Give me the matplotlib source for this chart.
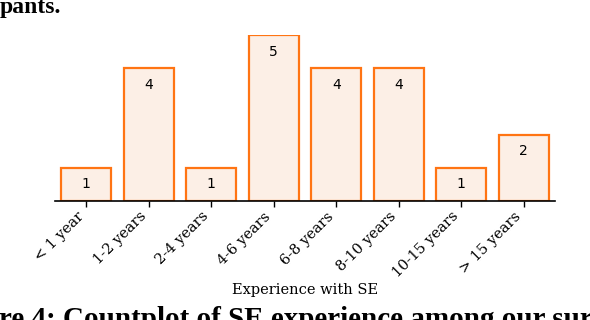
import matplotlib
matplotlib.use("Agg")
from matplotlib import pyplot as plt

experience = ["< 1 year", "1-2 years", "2-4 years", "4-6 years",
              "6-8 years", "8-10 years", "10-15 years", "> 15 years"]
counts = [1, 4, 1, 5, 4, 4, 1, 2]

fig = plt.figure(figsize=(5.9, 3.2), dpi=100)
ax = fig.add_axes([55 / 590, 1 - 201 / 320, 500 / 590, 166 / 320])

positions = range(len(experience))
ax.bar(positions, counts, width=0.8, color="#fcefe6",
       edgecolor="#ff7413", linewidth=1.6)
for x, c in zip(positions, counts):
    ax.text(x, c - 0.5, str(c), ha="center", va="center",
            fontsize=10, family="DejaVu Sans")

ax.set_xlim(-0.5, 7.5)
ax.set_ylim(0, 5)
ax.set_xticks(list(positions))
ax.set_xticklabels(experience, rotation=45, ha="right",
                   family="DejaVu Serif", fontsize=10.5)
ax.tick_params(axis="x", length=4, width=1, pad=2)
ax.set_yticks([])
for side in ["left", "right", "top"]:
    ax.spines[side].set_visible(False)
ax.spines["bottom"].set_linewidth(1.2)
ax.set_xlabel("Experience with SE", family="DejaVu Serif", fontsize=10.5)
ax.xaxis.set_label_coords(0.5, -(283 - 201) / 166)
ax.xaxis.label.set_va("top")

# fragments of the surrounding paper text
fig.text(0.0, 1 - 13 / 320, "pants.", ha="left", va="baseline", fontsize=17,
         fontweight="bold", family="Liberation Serif")
fig.text(-0.002, 1 - 327 / 320,
         "re 4: Countplot of SE experience among our surveyed participants.",
         ha="left", va="baseline", fontsize=21, fontweight="bold",
         family="Liberation Serif")

fig.savefig("out.png", dpi=100)
